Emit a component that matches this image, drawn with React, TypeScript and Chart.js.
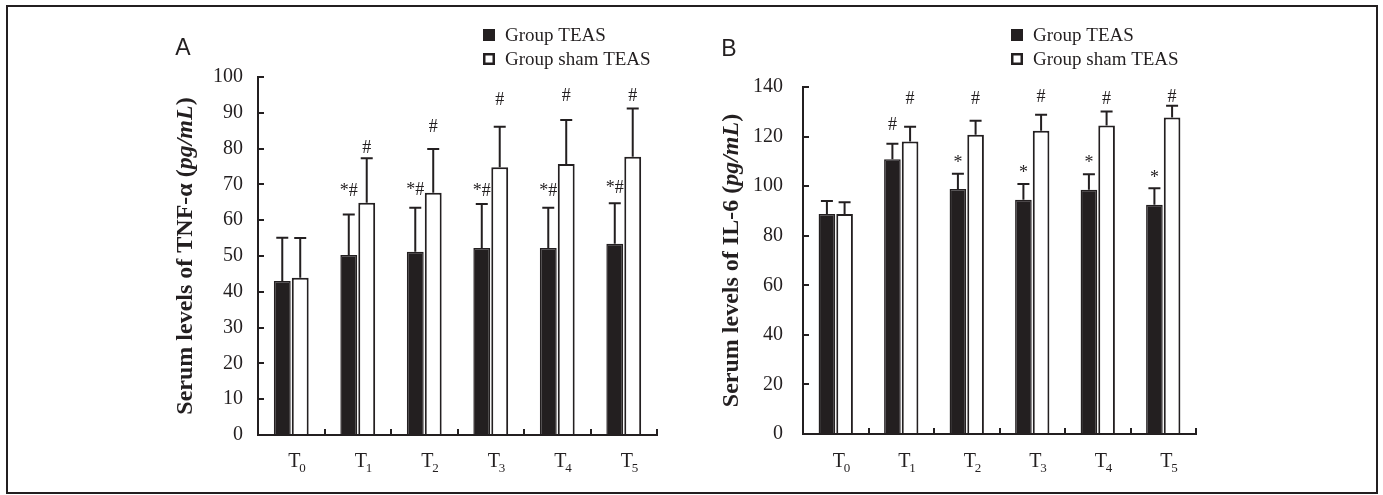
import React, { useEffect, useRef } from 'react';
import { Chart, registerables } from 'chart.js';

Chart.register(...registerables);

// ---------- data ----------
const timePoints = ['0', '1', '2', '3', '4', '5'];
const seriesNames = ['Group TEAS', 'Group sham TEAS'];

const tnfTeasMean = [43.0, 50.3, 51.2, 52.2, 52.2, 53.4];
const tnfTeasSD = [12.1, 11.3, 12.3, 12.3, 11.3, 11.3];
const tnfShamMean = [43.9, 64.9, 67.7, 74.8, 75.7, 77.7];
const tnfShamSD = [11.1, 12.4, 12.2, 11.3, 12.3, 13.5];
const tnfTeasMarks = ['', '*#', '*#', '*#', '*#', '*#'];
const tnfTeasMarkAt = [null, 68, 68.5, 68, 68, 69];
const tnfShamMarks = ['', '#', '#', '#', '#', '#'];
const tnfShamMarkAt = [null, 80, 86, 93.5, 94.5, 94.5];
const tnfTicks = [0, 10, 20, 30, 40, 50, 60, 70, 80, 90, 100];

const il6TeasMean = [88.8, 110.9, 98.8, 94.5, 98.5, 92.5];
const il6TeasSD = [5.2, 6.2, 6.2, 6.4, 6.3, 6.7];
const il6ShamMean = [88.8, 118.0, 120.7, 122.3, 124.5, 127.7];
const il6ShamSD = [4.7, 6.0, 5.7, 6.5, 5.6, 4.7];
const il6TeasMarks = ['', '#', '*', '*', '*', '*'];
const il6TeasMarkAt = [null, 124.7, 109.4, 105, 109.4, 103];
const il6ShamMarks = ['', '#', '#', '#', '#', '#'];
const il6ShamMarkAt = [null, 135.2, 135.2, 136, 135.2, 136];
const il6Ticks = [0, 20, 40, 60, 80, 100, 120, 140];

// ---------- styles ----------
const DARK = '#231f20';
const SERIF = '"Liberation Serif", "Times New Roman", Times, serif';
const SANS = '"Liberation Sans", Arial, Helvetica, sans-serif';

type Panel = {
  letter: string;
  titleParts: [string, boolean][];
  teas: number[];
  teasSD: number[];
  sham: number[];
  shamSD: number[];
  teasMarks: string[];
  teasMarkAt: (number | null)[];
  shamMarks: string[];
  shamMarkAt: (number | null)[];
  ticks: number[];
  width: number;
  axisLeft: number;
  axisRight: number;
  top: number;
  bottom: number;
  tickPad: number;
  titleX: number;
  letterX: number;
  letterY: number;
  legendX: number;
  legendTextX: number;
  legendY: number;
};

const panelA: Panel = {
  letter: 'A',
  titleParts: [['Serum levels of TNF-α (', false], ['pg/mL', true], [')', false]],
  teas: tnfTeasMean,
  teasSD: tnfTeasSD,
  sham: tnfShamMean,
  shamSD: tnfShamSD,
  teasMarks: tnfTeasMarks,
  teasMarkAt: tnfTeasMarkAt,
  shamMarks: tnfShamMarks,
  shamMarkAt: tnfShamMarkAt,
  ticks: tnfTicks,
  width: 700,
  axisLeft: 258,
  axisRight: 657,
  top: 77,
  bottom: 435,
  tickPad: 21,
  titleX: 186,
  letterX: 183,
  letterY: 49,
  legendX: 483,
  legendTextX: 505,
  legendY: 35,
};

const panelB: Panel = {
  letter: 'B',
  titleParts: [['Serum levels of IL-6 (', false], ['pg/mL', true], [')', false]],
  teas: il6TeasMean,
  teasSD: il6TeasSD,
  sham: il6ShamMean,
  shamSD: il6ShamSD,
  teasMarks: il6TeasMarks,
  teasMarkAt: il6TeasMarkAt,
  shamMarks: il6ShamMarks,
  shamMarkAt: il6ShamMarkAt,
  ticks: il6Ticks,
  width: 683,
  axisLeft: 103,
  axisRight: 496,
  top: 87,
  bottom: 434,
  tickPad: 26,
  titleX: 32,
  letterX: 29,
  letterY: 50,
  legendX: 311,
  legendTextX: 333,
  legendY: 35,
};

const H = 495;

function buildChart(canvas: HTMLCanvasElement, p: Panel) {
  const sds = [p.teasSD, p.shamSD];
  const marks = [p.teasMarks, p.shamMarks];
  const markAt = [p.teasMarkAt, p.shamMarkAt];

  const extras = {
    id: 'extras',
    afterDatasetsDraw(chart: any) {
      const ctx = chart.ctx as CanvasRenderingContext2D;
      const ys = chart.scales.y;
      const xs = chart.scales.x;
      ctx.save();
      // error bars (upper)
      ctx.strokeStyle = DARK;
      ctx.lineWidth = 2;
      sds.forEach((sd, d) => {
        const meta = chart.getDatasetMeta(d);
        meta.data.forEach((bar: any, i: number) => {
          const mean = chart.data.datasets[d].data[i] as number;
          const top = ys.getPixelForValue(mean + sd[i]);
          const { x, y } = bar.getProps(['x', 'y'], true);
          ctx.beginPath();
          ctx.moveTo(x, y);
          ctx.lineTo(x, top);
          ctx.moveTo(x - 6, top);
          ctx.lineTo(x + 6, top);
          ctx.stroke();
        });
      });
      // significance marks
      ctx.fillStyle = DARK;
      ctx.font = `18px ${SERIF}`;
      ctx.textAlign = 'center';
      ctx.textBaseline = 'middle';
      marks.forEach((mk, d) => {
        const meta = chart.getDatasetMeta(d);
        meta.data.forEach((bar: any, i: number) => {
          const v = markAt[d][i];
          if (!mk[i] || v == null) return;
          const { x } = bar.getProps(['x'], true);
          ctx.fillText(mk[i], x, ys.getPixelForValue(v));
        });
      });
      // x labels with subscripts
      timePoints.forEach((tp, i) => {
        const cx = xs.getPixelForValue(i);
        ctx.font = `20px ${SERIF}`;
        ctx.textAlign = 'left';
        ctx.textBaseline = 'alphabetic';
        const tw = ctx.measureText('T').width;
        const tx = cx + 3 - tw / 2;
        ctx.fillText('T', tx, 467);
        ctx.font = `13px ${SERIF}`;
        ctx.fillText(tp, tx + tw - 1, 472);
      });
      // y title (rotated, mixed styles)
      const cy = (chart.chartArea.top + chart.chartArea.bottom) / 2;
      ctx.save();
      ctx.translate(p.titleX, cy);
      ctx.rotate(-Math.PI / 2);
      ctx.textBaseline = 'middle';
      ctx.textAlign = 'left';
      let total = 0;
      p.titleParts.forEach(([t, it]) => {
        ctx.font = `${it ? 'italic ' : ''}bold 24px ${SERIF}`;
        total += ctx.measureText(t).width;
      });
      let px = -total / 2;
      p.titleParts.forEach(([t, it]) => {
        ctx.font = `${it ? 'italic ' : ''}bold 24px ${SERIF}`;
        ctx.fillText(t, px, 0);
        px += ctx.measureText(t).width;
      });
      ctx.restore();
      // panel letter
      ctx.font = `23px ${SANS}`;
      ctx.textAlign = 'center';
      ctx.textBaseline = 'middle';
      ctx.fillText(p.letter, p.letterX, p.letterY);
      // legend
      chart.data.datasets.forEach((ds: any, d: number) => {
        const yy = p.legendY + d * 24;
        if (d === 0) {
          ctx.fillStyle = DARK;
          ctx.fillRect(p.legendX, yy - 6, 12, 12);
        } else {
          ctx.strokeStyle = DARK;
          ctx.lineWidth = 2.5;
          ctx.strokeRect(p.legendX + 1.25, yy - 4.75, 9.5, 9.5);
        }
        ctx.fillStyle = DARK;
        ctx.font = `19px ${SERIF}`;
        ctx.textAlign = 'left';
        ctx.textBaseline = 'middle';
        ctx.fillText(ds.label, p.legendTextX, yy + 1);
      });
      ctx.restore();
    },
  };

  return new Chart(canvas, {
    type: 'bar',
    data: {
      labels: timePoints,
      datasets: [
        {
          label: seriesNames[0],
          data: p.teas,
          backgroundColor: DARK,
          borderColor: DARK,
          borderWidth: 1.5,
          categoryPercentage: 0.54,
          barPercentage: 0.94,
        },
        {
          label: seriesNames[1],
          data: p.sham,
          backgroundColor: '#ffffff',
          borderColor: DARK,
          borderWidth: 2,
          categoryPercentage: 0.54,
          barPercentage: 0.94,
        },
      ],
    },
    options: {
      animation: false,
      responsive: false,
      devicePixelRatio: 1,
      events: [],
      layout: {
        padding: { left: 0, top: p.top, right: p.width - p.axisRight, bottom: 0 },
      },
      plugins: {
        legend: { display: false },
        title: { display: false },
        tooltip: { enabled: false },
      },
      scales: {
        x: {
          type: 'category',
          offset: true,
          z: 1,
          afterFit: (s: any) => {
            s.height = H - p.bottom;
          },
          border: { display: true, color: DARK, width: 2 },
          grid: {
            offset: true,
            drawOnChartArea: false,
            drawTicks: true,
            tickLength: -6,
            tickWidth: 2,
            lineWidth: 2,
            color: DARK,
            tickColor: DARK,
          },
          ticks: { display: false },
        },
        y: {
          min: 0,
          max: p.ticks[p.ticks.length - 1],
          z: 1,
          afterFit: (s: any) => {
            s.width = p.axisLeft;
          },
          afterBuildTicks: (s: any) => {
            s.ticks = p.ticks.map((v) => ({ value: v }));
          },
          border: { display: true, color: DARK, width: 2 },
          grid: {
            drawOnChartArea: false,
            drawTicks: true,
            tickLength: -6,
            tickWidth: 2,
            lineWidth: 2,
            color: DARK,
            tickColor: DARK,
          },
          ticks: {
            color: DARK,
            font: { family: SERIF, size: 20 },
            padding: p.tickPad,
          },
        },
      },
    },
    plugins: [extras],
  } as any);
}

export default function App() {
  const refA = useRef<HTMLCanvasElement>(null);
  const refB = useRef<HTMLCanvasElement>(null);

  useEffect(() => {
    const a = buildChart(refA.current!, panelA);
    const b = buildChart(refB.current!, panelB);
    return () => {
      a.destroy();
      b.destroy();
    };
  }, []);

  return (
    <div style={{ position: 'absolute', left: 0, top: 0, width: 1383, height: 495, background: '#ffffff' }}>
      <canvas
        ref={refA}
        width={700}
        height={495}
        style={{ position: 'absolute', left: 0, top: 0, width: 700, height: 495 }}
      />
      <canvas
        ref={refB}
        width={683}
        height={495}
        style={{ position: 'absolute', left: 700, top: 0, width: 683, height: 495 }}
      />
      <div
        style={{
          position: 'absolute',
          left: 6,
          top: 5,
          width: 1372,
          height: 489,
          border: `2px solid ${DARK}`,
          boxSizing: 'border-box',
          pointerEvents: 'none',
        }}
      />
    </div>
  );
}
